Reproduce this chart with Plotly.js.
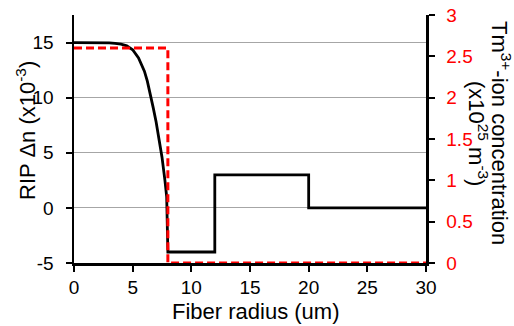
<!DOCTYPE html>
<html>
<head>
<meta charset="utf-8">
<script src="https://cdn.plot.ly/plotly-3.0.1.min.js"></script>
<style>html,body{margin:0;padding:0;background:#fff;}</style>
</head>
<body>
<div id="chart" style="width:514px;height:326px;"></div>
<script>
// Refractive index profile (RIP), Δn ×10^-3, versus fiber radius (um)
const ripRadius = [0, 1, 2, 3, 3.5, 4, 4.5, 5, 5.5, 6, 6.25, 6.5, 6.75, 7, 7.25, 7.5, 7.75, 7.9, 8, 12, 12, 20, 20, 30];
const ripDn     = [15, 15, 15, 14.97, 14.92, 14.85, 14.7, 14.35, 13.6, 12.4, 11.5, 10.4, 9.1, 7.8, 6.2, 4.6, 2.5, 1, -4, -4, 3, 3, 0, 0];
// Tm3+ ion concentration (×10^25 m^-3) versus fiber radius (um)
const tmRadius = [0, 8, 8, 30];
const tmConc   = [2.6, 2.6, 0, 0];
// Tick labels
const xTicks  = [0, 5, 10, 15, 20, 25, 30];
const y1Ticks = [-5, 0, 5, 10, 15];
const y2Ticks = [0, 0.5, 1, 1.5, 2, 2.5, 3];

const FONT = 'Liberation Sans, Arial, sans-serif';

const traces = [
  {x: ripRadius, y: ripDn, type: 'scatter', mode: 'lines', yaxis: 'y',
   line: {color: '#000000', width: 2.8}, cliponaxis: false, hoverinfo: 'none'},
  {x: tmRadius, y: tmConc, type: 'scatter', mode: 'lines', yaxis: 'y2',
   line: {color: '#ff0000', width: 3, dash: '8px,4px'}, cliponaxis: false, hoverinfo: 'none'}
];

const l = 74, r = 88, t = 15, b = 63, W = 514, H = 326;
const pw = W - l - r, ph = H - t - b;
const px = v => (v - l) / pw;          // pixel x -> paper x
const py = v => (H - b - v) / ph;      // pixel y -> paper y

const layout = {
  width: W, height: H,
  margin: {l: l, r: r, t: t, b: b, pad: 0},
  paper_bgcolor: '#ffffff', plot_bgcolor: '#ffffff',
  showlegend: false,
  font: {family: FONT, size: 19, color: '#000000'},
  xaxis: {
    range: [0, 30], tickvals: xTicks, ticktext: xTicks.map(String),
    showline: true, linecolor: '#000000', linewidth: 2.5,
    ticks: 'outside', ticklen: 6, tickwidth: 2, tickcolor: '#000000',
    ticklabelstandoff: 0,
    showgrid: false, zeroline: false, layer: 'below traces',
    tickfont: {family: FONT, size: 19, color: '#000000'}
  },
  yaxis: {
    range: [-5, 17.5], tickvals: y1Ticks, ticktext: y1Ticks.map(String),
    showline: true, linecolor: '#000000', linewidth: 2.5,
    ticks: 'outside', ticklen: 6, tickwidth: 2, tickcolor: '#000000',
    ticklabelstandoff: 8,
    showgrid: true, gridcolor: '#a6a6a6', gridwidth: 1, zeroline: false,
    layer: 'below traces',
    tickfont: {family: FONT, size: 19, color: '#000000'}
  },
  yaxis2: {
    overlaying: 'y', side: 'right', range: [0, 3],
    tickvals: y2Ticks, ticktext: y2Ticks.map(String),
    showline: true, linecolor: '#000000', linewidth: 2.5,
    ticks: 'outside', ticklen: 6, tickwidth: 2, tickcolor: '#000000',
    ticklabelstandoff: 8,
    showgrid: false, zeroline: false, layer: 'below traces',
    tickfont: {family: FONT, size: 19, color: '#ff0000'}
  },
  annotations: [
    {text: 'Fiber radius (um)', xref: 'paper', yref: 'paper',
     x: px(255), y: py(311), xanchor: 'center', yanchor: 'middle',
     showarrow: false, font: {family: FONT, size: 22, color: '#000000'}},
    {text: 'RIP Δn (x10<sup>-3</sup>)', xref: 'paper', yref: 'paper',
     x: px(26), y: py(131), xanchor: 'center', yanchor: 'middle',
     textangle: -90, showarrow: false, font: {family: FONT, size: 22, color: '#000000'}},
    {text: 'Tm<sup>3+</sup>-ion concentration', xref: 'paper', yref: 'paper',
     x: px(501), y: py(133), xanchor: 'center', yanchor: 'middle',
     textangle: 90, showarrow: false, font: {family: FONT, size: 22, color: '#000000'}},
    {text: '(x10<sup>25</sup> m<sup>-3</sup>)', xref: 'paper', yref: 'paper',
     x: px(478), y: py(133), xanchor: 'center', yanchor: 'middle',
     textangle: 90, showarrow: false, font: {family: FONT, size: 22, color: '#000000'}}
  ]
};

Plotly.newPlot('chart', traces, layout, {staticPlot: true, displayModeBar: false});
</script>
</body>
</html>
